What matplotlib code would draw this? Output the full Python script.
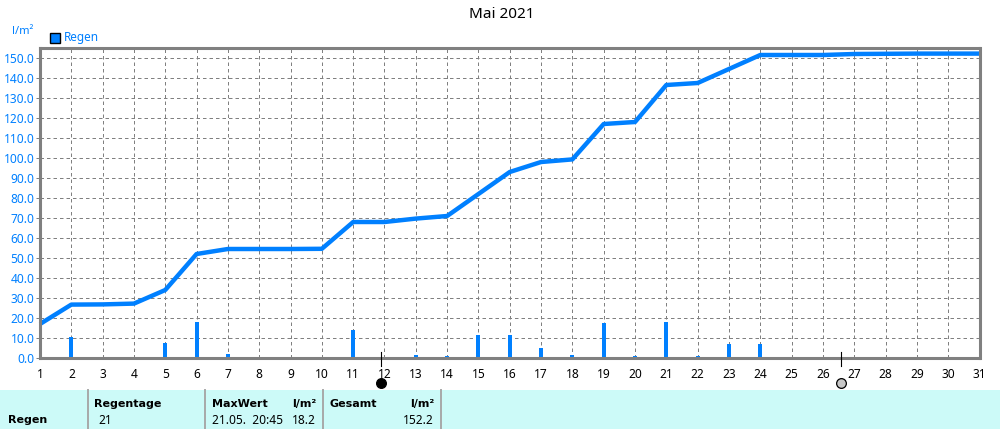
import matplotlib

matplotlib.use("Agg")
import matplotlib.pyplot as plt
from matplotlib.patches import Rectangle

BLUE, GREY, CYAN, SEP = "#0080ff", "#808080", "#ccfaf8", "#a8a8a8"
plt.rcParams["font.family"] = ["Noto Sans", "DejaVu Sans"]

days = list(range(1, 32))
rain = [17.0, 10.3, 0.2, 0.2, 7.3, 18.2, 2.2, 0.2, 0.2, 0.2, 13.8, 0.2, 1.7, 1.2, 11.3, 11.3,
        5.2, 1.7, 17.7, 1.2, 18.2, 1.2, 7.1, 7.1, 0.2, 0.2, 0.7, 0.2, 0.2, 0.2, 0.0]
total = [17.0, 26.7, 26.8, 27.2, 34.0, 52.0, 54.5, 54.5, 54.5, 54.6, 68.0, 68.0, 69.7, 71.0, 82.0, 93.0,
         98.0, 99.3, 117.0, 118.0, 136.5, 137.5, 144.5, 151.5, 151.5, 151.5, 152.0, 152.1, 152.2, 152.2, 152.2]
y_ticks = list(range(0, 151, 10))
new_moon = 11.89
full_moon = 26.57

W, H = 1000, 429


def fx(px):
    return px / W


def fy(py):
    return 1 - py / H


fig = plt.figure(figsize=(10, 4.29), dpi=100)
ax = fig.add_axes([fx(40), fy(358), 939.5 / W, 310 / H])
ax.set_xlim(1, 31)
ax.set_ylim(0, 155)
ax.set_xticks(days)
ax.set_yticks(y_ticks, [f"{v:.1f}" for v in y_ticks])
ax.grid(color=GREY, lw=0.72, ls=(0, (3.5, 3)))
ax.set_axisbelow(True)
for s in ax.spines.values():
    s.set_color(GREY)
    s.set_linewidth(2.2)
    s.set_zorder(5)
ax.tick_params(axis="x", length=0, pad=7, labelsize=8.6, labelcolor="black")
ax.tick_params(axis="y", length=3, width=0.72, color=GREY, pad=1, labelsize=8.6, labelcolor=BLUE)

ax.bar(days, rain, width=0.13, color=BLUE, zorder=3)
ax.plot(days, total, color=BLUE, lw=3.2, solid_joinstyle="round", solid_capstyle="butt", zorder=4, clip_on=False)

# moon phase marks below the axis
for x, col in ((new_moon, "black"), (full_moon, "#c8c8c8")):
    ax.plot([x, x], [3, -4], color="black", lw=0.8, clip_on=False, zorder=6)
    ax.plot([x], [-12.5], marker="o", ms=7, mfc=col, mec="black", mew=0.9, clip_on=False, zorder=6)

fig.text(fx(502), fy(15), "Mai 2021", ha="center", va="center", fontsize=11)
fig.text(fx(12), fy(32), "l/m²", ha="left", va="center", fontsize=8, color=BLUE)
fig.patches.append(Rectangle((fx(50), fy(43)), 10 / W, 10 / H, transform=fig.transFigure,
                             fc=BLUE, ec="black", lw=1))
fig.text(fx(64), fy(38), "Regen", ha="left", va="center", fontsize=8.5, color=BLUE)

# summary table strip
fig.patches.append(Rectangle((0, 0), 1, 39 / H, transform=fig.transFigure, fc=CYAN, ec="none"))
for px in (88, 205, 323, 441):
    fig.add_artist(plt.Line2D([fx(px), fx(px)], [0, 39 / H], color=SEP, lw=1.4))


def cell(px, py, s, bold=False, right=False):
    fig.text(fx(px), fy(py), s, ha="right" if right else "left", va="center",
             fontsize=8 if bold else 8.6, family="DejaVu Sans" if bold else "Noto Sans",
             fontweight="bold" if bold else "normal", color="black")


cell(8, 420, "Regen", bold=True)
cell(94, 404, "Regentage", bold=True)
cell(98, 420, "21")
cell(212, 404, "MaxWert", bold=True)
cell(316, 404, "l/m²", bold=True, right=True)
cell(212, 420, "21.05.  20:45")
cell(316, 420, "18.2", right=True)
cell(330, 404, "Gesamt", bold=True)
cell(434, 404, "l/m²", bold=True, right=True)
cell(434, 420, "152.2", right=True)

fig.savefig("out.png", dpi=100)
